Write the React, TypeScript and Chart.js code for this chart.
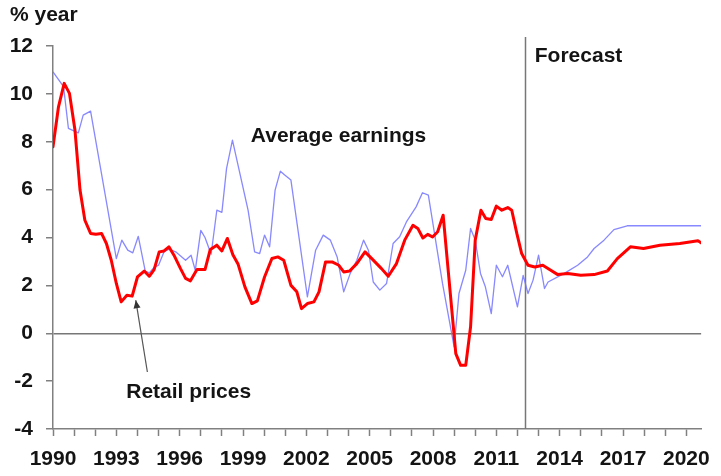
import React, { useEffect, useRef } from 'react';
import { Chart, registerables } from 'chart.js';

Chart.register(...registerables);

// ---- Data ----
const earningsYears = [1990.0, 1990.5, 1990.73, 1991.2, 1991.43, 1991.78, 1993.0, 1993.26, 1993.54, 1993.78, 1994.04, 1994.37, 1994.56, 1994.79, 1995.0, 1995.26, 1995.49, 1995.81, 1996.28, 1996.54, 1996.74, 1997.0, 1997.2, 1997.49, 1997.76, 1998.0, 1998.22, 1998.5, 1999.24, 1999.55, 1999.79, 2000.02, 2000.26, 2000.52, 2000.77, 2000.99, 2001.27, 2002.05, 2002.44, 2002.8, 2003.14, 2003.46, 2003.77, 2004.08, 2004.39, 2004.71, 2004.94, 2005.17, 2005.48, 2005.8, 2006.11, 2006.42, 2006.74, 2007.2, 2007.5, 2007.78, 2008.45, 2009.0, 2009.23, 2009.55, 2009.78, 2010.0, 2010.25, 2010.48, 2010.76, 2011.0, 2011.29, 2011.54, 2012.0, 2012.27, 2012.5, 2012.74, 2013.0, 2013.28, 2013.45, 2014.22, 2014.85, 2015.32, 2015.63, 2016.1, 2016.57, 2017.2, 2020.7];
const earningsValues = [10.92, 10.3, 8.56, 8.37, 9.11, 9.28, 3.12, 3.89, 3.47, 3.36, 4.05, 2.6, 2.52, 2.75, 2.84, 3.4, 3.51, 3.4, 3.05, 3.26, 2.63, 4.3, 4.0, 3.3, 5.14, 5.05, 6.88, 8.07, 5.14, 3.4, 3.33, 4.1, 3.61, 5.98, 6.77, 6.6, 6.4, 1.52, 3.47, 4.1, 3.89, 3.19, 1.73, 2.5, 3.05, 3.89, 3.47, 2.14, 1.8, 2.08, 3.75, 4.03, 4.65, 5.28, 5.87, 5.77, 2.08, -0.57, 1.66, 2.63, 4.38, 3.89, 2.5, 1.94, 0.82, 2.84, 2.36, 2.84, 1.1, 2.42, 1.66, 2.22, 3.26, 1.87, 2.14, 2.5, 2.84, 3.19, 3.54, 3.89, 4.33, 4.49, 4.49];

const pricesYears = [1990.0, 1990.26, 1990.53, 1990.78, 1991.04, 1991.28, 1991.51, 1991.78, 1992.03, 1992.3, 1992.53, 1992.76, 1993.0, 1993.23, 1993.5, 1993.75, 1994.0, 1994.32, 1994.56, 1994.79, 1995.03, 1995.26, 1995.49, 1995.73, 1996.04, 1996.28, 1996.51, 1996.82, 1997.2, 1997.45, 1997.76, 1998.0, 1998.26, 1998.52, 1998.77, 1999.09, 1999.42, 1999.68, 2000.02, 2000.37, 2000.65, 2000.93, 2001.27, 2001.55, 2001.77, 2002.05, 2002.36, 2002.6, 2002.91, 2003.22, 2003.54, 2003.77, 2004.05, 2004.39, 2004.78, 2005.1, 2005.56, 2005.88, 2006.27, 2006.66, 2007.05, 2007.28, 2007.52, 2007.75, 2007.98, 2008.22, 2008.48, 2009.08, 2009.31, 2009.55, 2009.78, 2010.0, 2010.27, 2010.5, 2010.76, 2011.0, 2011.26, 2011.54, 2011.73, 2011.97, 2012.2, 2012.5, 2012.82, 2013.2, 2013.52, 2013.91, 2014.38, 2015.0, 2015.63, 2016.26, 2016.73, 2017.35, 2017.97, 2018.75, 2019.69, 2020.55, 2020.75];
const pricesValues = [7.79, 9.46, 10.44, 10.02, 8.49, 5.98, 4.72, 4.17, 4.14, 4.17, 3.75, 3.05, 2.08, 1.31, 1.59, 1.55, 2.35, 2.6, 2.38, 2.66, 3.4, 3.44, 3.61, 3.26, 2.7, 2.29, 2.19, 2.66, 2.66, 3.5, 3.68, 3.44, 3.96, 3.28, 2.88, 1.94, 1.24, 1.35, 2.35, 3.12, 3.19, 3.05, 2.0, 1.73, 1.03, 1.24, 1.31, 1.73, 2.98, 2.98, 2.84, 2.56, 2.6, 2.91, 3.4, 3.12, 2.7, 2.38, 2.91, 3.89, 4.51, 4.38, 3.98, 4.13, 4.02, 4.24, 4.93, -0.85, -1.34, -1.34, 0.27, 3.89, 5.14, 4.79, 4.75, 5.31, 5.14, 5.25, 5.14, 4.17, 3.33, 2.84, 2.77, 2.84, 2.66, 2.45, 2.5, 2.42, 2.45, 2.6, 3.12, 3.61, 3.54, 3.68, 3.75, 3.86, 3.75];

const xMin = 1990;
const xMax = 2020.7;
const xLabelStep = 3;
const yMin = -4;
const yMax = 12;
const yStep = 2;
const forecastStart = 2012.35;

const unitLabel = '% year';
const earningsLabel = 'Average earnings';
const pricesLabel = 'Retail prices';
const forecastLabel = 'Forecast';

// annotation anchors in data units
const earningsLabelPos = { x: 1999.37, y: 7.98 };
const pricesLabelPos = { x: 1993.47, y: -2.72 };
const forecastLabelPos = { x: 2012.82, y: 11.32 };
const arrowTail = { x: 1994.47, y: -1.62 };
const arrowTip = { x: 1993.92, y: 1.38 };

const FONT = '"Liberation Sans", Arial, Helvetica, sans-serif';
const TEXT = '#141414';
const AXIS = '#808080';

const annotations = {
  id: 'annotations',
  beforeDatasetsDraw(chart: any) {
    const { ctx, chartArea, scales } = chart;
    const fx = Math.round(scales.x.getPixelForValue(forecastStart)) + 0.5;
    ctx.save();
    ctx.strokeStyle = '#777777';
    ctx.lineWidth = 1.5;
    ctx.beginPath();
    ctx.moveTo(fx, chartArea.top - 9);
    ctx.lineTo(fx, chartArea.bottom);
    ctx.stroke();
    ctx.restore();
  },
  afterDatasetsDraw(chart: any) {
    const { ctx, scales } = chart;
    const px = (v: number) => scales.x.getPixelForValue(v);
    const py = (v: number) => scales.y.getPixelForValue(v);
    ctx.save();
    ctx.font = `bold 21px ${FONT}`;
    ctx.fillStyle = TEXT;
    ctx.textAlign = 'left';
    ctx.textBaseline = 'alphabetic';
    ctx.fillText(unitLabel, 10, 21);
    ctx.fillText(earningsLabel, px(earningsLabelPos.x), py(earningsLabelPos.y));
    ctx.fillText(pricesLabel, px(pricesLabelPos.x), py(pricesLabelPos.y));
    ctx.fillText(forecastLabel, px(forecastLabelPos.x), py(forecastLabelPos.y));

    // arrow
    const x1 = px(arrowTail.x), y1 = py(arrowTail.y);
    const x2 = px(arrowTip.x), y2 = py(arrowTip.y);
    ctx.strokeStyle = '#555555';
    ctx.fillStyle = '#333333';
    ctx.lineWidth = 1.2;
    ctx.beginPath();
    ctx.moveTo(x1, y1);
    ctx.lineTo(x2, y2);
    ctx.stroke();
    const ang = Math.atan2(y2 - y1, x2 - x1);
    const len = 8, half = 3.5;
    ctx.beginPath();
    ctx.moveTo(x2, y2);
    ctx.lineTo(x2 - len * Math.cos(ang) + half * Math.sin(ang), y2 - len * Math.sin(ang) - half * Math.cos(ang));
    ctx.lineTo(x2 - len * Math.cos(ang) - half * Math.sin(ang), y2 - len * Math.sin(ang) + half * Math.cos(ang));
    ctx.closePath();
    ctx.fill();
    ctx.restore();
  },
};

export default function App() {
  const canvasRef = useRef<HTMLCanvasElement | null>(null);

  useEffect(() => {
    const canvas = canvasRef.current;
    if (!canvas) return;
    const chart = new Chart(canvas, {
      type: 'line',
      data: {
        datasets: [
          {
            label: pricesLabel,
            data: pricesYears.map((x, i) => ({ x, y: pricesValues[i] })),
            borderColor: '#ff0000',
            borderWidth: 3,
            borderJoinStyle: 'round',
            borderCapStyle: 'round',
            pointRadius: 0,
            tension: 0,
            fill: false,
            order: 0,
          },
          {
            label: earningsLabel,
            data: earningsYears.map((x, i) => ({ x, y: earningsValues[i] })),
            borderColor: 'rgba(115,115,255,0.85)',
            borderWidth: 1.3,
            borderJoinStyle: 'round',
            pointRadius: 0,
            tension: 0,
            fill: false,
            order: 1,
          },
        ],
      },
      options: {
        responsive: false,
        animation: false,
        events: [],
        layout: { padding: { top: 46, right: 13, left: 0, bottom: 0 } },
        plugins: {
          legend: { display: false },
          tooltip: { enabled: false },
          title: { display: false },
        },
        scales: {
          x: {
            type: 'linear',
            min: xMin,
            max: xMax,
            afterFit: (s: any) => { s.height = 47; },
            border: { display: true, color: AXIS, width: 1.5 },
            grid: {
              display: true,
              drawOnChartArea: false,
              drawTicks: true,
              tickLength: 7,
              tickColor: AXIS,
              tickWidth: 1.5,
            },
            ticks: {
              stepSize: 1,
              autoSkip: false,
              includeBounds: false,
              maxRotation: 0,
              minRotation: 0,
              padding: 11,
              color: TEXT,
              font: { family: FONT, size: 21, weight: 'bold' },
              callback: (v: any) => {
                const n = Math.round(Number(v));
                return (n - xMin) % xLabelStep === 0 ? String(n) : '';
              },
            },
          },
          y: {
            type: 'linear',
            min: yMin,
            max: yMax,
            afterFit: (s: any) => { s.width = 53; },
            border: { display: true, color: AXIS, width: 1.5 },
            grid: {
              display: true,
              drawOnChartArea: true,
              drawTicks: true,
              tickLength: 7,
              tickColor: AXIS,
              lineWidth: 1.5,
              color: (c: any) => (c.tick && c.tick.value === 0 ? '#777777' : 'rgba(0,0,0,0)'),
            },
            ticks: {
              stepSize: yStep,
              padding: 13,
              color: TEXT,
              font: { family: FONT, size: 21, weight: 'bold' },
            },
          },
        },
      },
      plugins: [annotations],
    });
    return () => chart.destroy();
  }, []);

  return (
    <div style={{ position: 'absolute', left: 0, top: 0, width: 721, height: 476, background: '#fff' }}>
      <canvas ref={canvasRef} width={721} height={476} style={{ display: 'block' }} />
    </div>
  );
}
